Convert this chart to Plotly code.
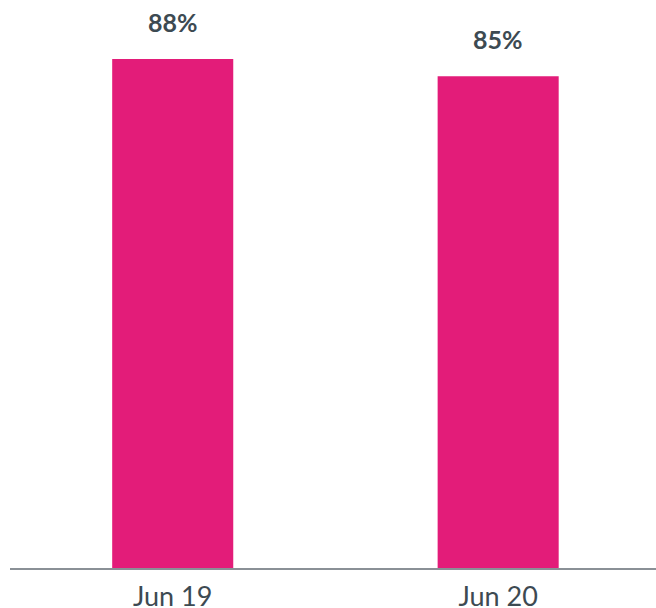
import plotly.graph_objects as go

categories = ["Jun 19", "Jun 20"]
values = [88, 85]
labels = ["88%", "85%"]

bar_color = "#E31C79"
text_color = "#3D4A52"

fig = go.Figure()
fig.add_trace(go.Bar(x=categories, y=values, marker=dict(color=bar_color, line=dict(width=0)),
                     width=0.372, hoverinfo="skip"))

for c, v, t in zip(categories, values, labels):
    fig.add_annotation(x=c, y=v, text="<b>%s</b>" % t, showarrow=False, yanchor="bottom",
                       yshift=20, font=dict(family="Lato", size=25, color=text_color))

fig.update_layout(
    width=656, height=608,
    margin=dict(l=10, r=0, t=0, b=40, autoexpand=False),
    plot_bgcolor="white", paper_bgcolor="white",
    showlegend=False,
    font=dict(family="Lato", size=27, color=text_color),
    xaxis=dict(range=[-0.5, 1.485], showgrid=False, showline=True, linecolor="#8A9096",
               linewidth=1.5, ticks="", ticklabelstandoff=4, automargin=False,
               tickfont=dict(family="Lato", size=27, color=text_color),
               fixedrange=True),
    yaxis=dict(range=[0, 98.2], visible=False, showgrid=False, zeroline=False, fixedrange=True),
)

fig.write_html("out.html", config={"displayModeBar": False},
               post_script="document.body.style.margin='0';document.body.style.overflow='hidden';")
